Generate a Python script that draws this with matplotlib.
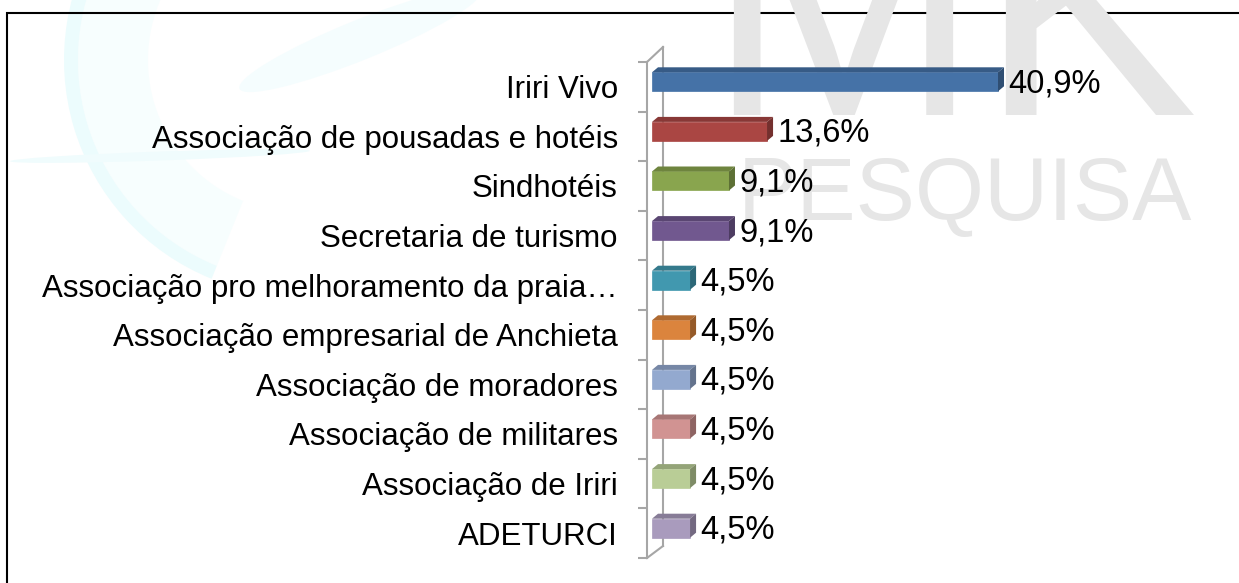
import matplotlib
matplotlib.use('Agg')
import matplotlib.pyplot as plt
import matplotlib.transforms as mtransforms
from matplotlib.patches import Polygon, Wedge, Ellipse
from matplotlib.colors import to_rgb
import numpy as np

categories = ['Iriri Vivo', 'Associação de pousadas e hotéis', 'Sindhotéis',
              'Secretaria de turismo', 'Associação pro melhoramento da praia…',
              'Associação empresarial de Anchieta', 'Associação de moradores',
              'Associação de militares', 'Associação de Iriri', 'ADETURCI']
values = [40.9, 13.6, 9.1, 9.1, 4.5, 4.5, 4.5, 4.5, 4.5, 4.5]
colors = ['#4572A7', '#AA4643', '#89A54E', '#71588F', '#4198AF',
          '#DB843D', '#93A9CF', '#D19392', '#B9CD96', '#A99BBD']

plt.rcParams['font.family'] = ['Liberation Sans', 'DejaVu Sans']

W, H, DPI = 1239, 583, 100
fig = plt.figure(figsize=(W / DPI, H / DPI), dpi=DPI)

# background layer in pixel coordinates (watermark, frame, border)
bg = fig.add_axes([0, 0, 1, 1], zorder=0)
bg.set_xlim(0, W)
bg.set_ylim(H, 0)
bg.axis('off')

# pale cyan swoosh
bg.add_patch(Wedge((300, 60), 222, 112, 215, width=70, facecolor='#f7fefe', edgecolor='none'))
bg.add_patch(Wedge((300, 60), 236, 112, 215, width=14, facecolor='#ecfcfd', edgecolor='none'))
bg.add_patch(Ellipse((160, 156), 300, 9, angle=-2, facecolor='#f0fcfd', edgecolor='none'))
bg.add_patch(Ellipse((360, 40), 260, 40, angle=-22, facecolor='#f5fdfe', edgecolor='none'))

# grey logo watermark
bg.text(1198, 115, 'MK', ha='right', va='baseline', fontsize=236, color='#e6e6e6')
bg.text(1192, 220, 'PESQUISA', ha='right', va='baseline', fontsize=64, color='#e6e6e6')

# border
bg.plot([7, 7, W], [H, 13, 13], color='black', lw=1.5, solid_joinstyle='miter')

# main axes = front plane of the 3D chart
px_per_pct = 8.46
left_px, top_px, bot_px = 647, 62, 558
xmax = 60
ax = fig.add_axes([left_px / W, (H - bot_px) / H, xmax * px_per_pct / W, (bot_px - top_px) / H], zorder=1)
ax.set_facecolor('none')
ax.set_xlim(0, xmax)
ax.set_ylim(len(categories) - 0.5, -0.5)

px_per_cat = (bot_px - top_px) / len(categories)
grey = '#a6a6a6'

# back wall and connecting edges
back_dx, back_top_dy, back_bot_dy = 16, 15, 12
bg.plot([left_px + back_dx, left_px + back_dx], [top_px - back_top_dy, bot_px - back_bot_dy],
        color=grey, lw=1.5, zorder=1)
bg.plot([left_px, left_px + back_dx], [top_px, top_px - back_top_dy], color=grey, lw=1.5)
bg.plot([left_px, left_px + back_dx], [bot_px, bot_px - back_bot_dy], color=grey, lw=1.5)

# bars with depth
bar_tr = mtransforms.offset_copy(ax.transData, fig=fig, x=5, y=5, units='dots')
lbl_tr = mtransforms.offset_copy(ax.transData, fig=fig, x=0, y=3, units='dots')
h = 19 / px_per_cat
ddx = 6 / px_per_pct
ddy = -5 / px_per_cat
y = np.arange(len(categories))


def shade(c, f):
    r, g, b = to_rgb(c)
    return (r * f, g * f, b * f)


for yi, v, c in zip(y, values, colors):
    yt, yb = yi - h / 2, yi + h / 2
    ax.add_patch(Polygon([(0, yt), (v, yt), (v, yb), (0, yb)], closed=True,
                         facecolor=c, edgecolor=c, lw=0.5, transform=bar_tr, zorder=3))
    ax.add_patch(Polygon([(0, yt), (v, yt), (v + ddx, yt + ddy), (ddx, yt + ddy)], closed=True,
                         facecolor=shade(c, 0.8), edgecolor='none', transform=bar_tr, zorder=3))
    ax.add_patch(Polygon([(v, yt), (v, yb), (v + ddx, yb + ddy), (v + ddx, yt + ddy)], closed=True,
                         facecolor=shade(c, 0.68), edgecolor='none', transform=bar_tr, zorder=3))
    ax.text(v + 15.5 / px_per_pct, yi, f'{v:.1f}%'.replace('.', ','), ha='left', va='center',
            fontsize=23.5, color='black', transform=lbl_tr)

# axis styling
ax.set_yticks(y)
ax.set_yticklabels(categories, fontsize=22.5)
ax.set_yticks(np.arange(-0.5, len(categories)), minor=True)
ax.tick_params(axis='y', which='major', length=0, pad=21)
ax.tick_params(axis='y', which='minor', length=6.5, width=1.5, color=grey, direction='out')
ax.set_xticks([])
for s in ['top', 'right', 'bottom']:
    ax.spines[s].set_visible(False)
ax.spines['left'].set_color(grey)
ax.spines['left'].set_linewidth(1.5)

fig.savefig('out.png', dpi=DPI)
